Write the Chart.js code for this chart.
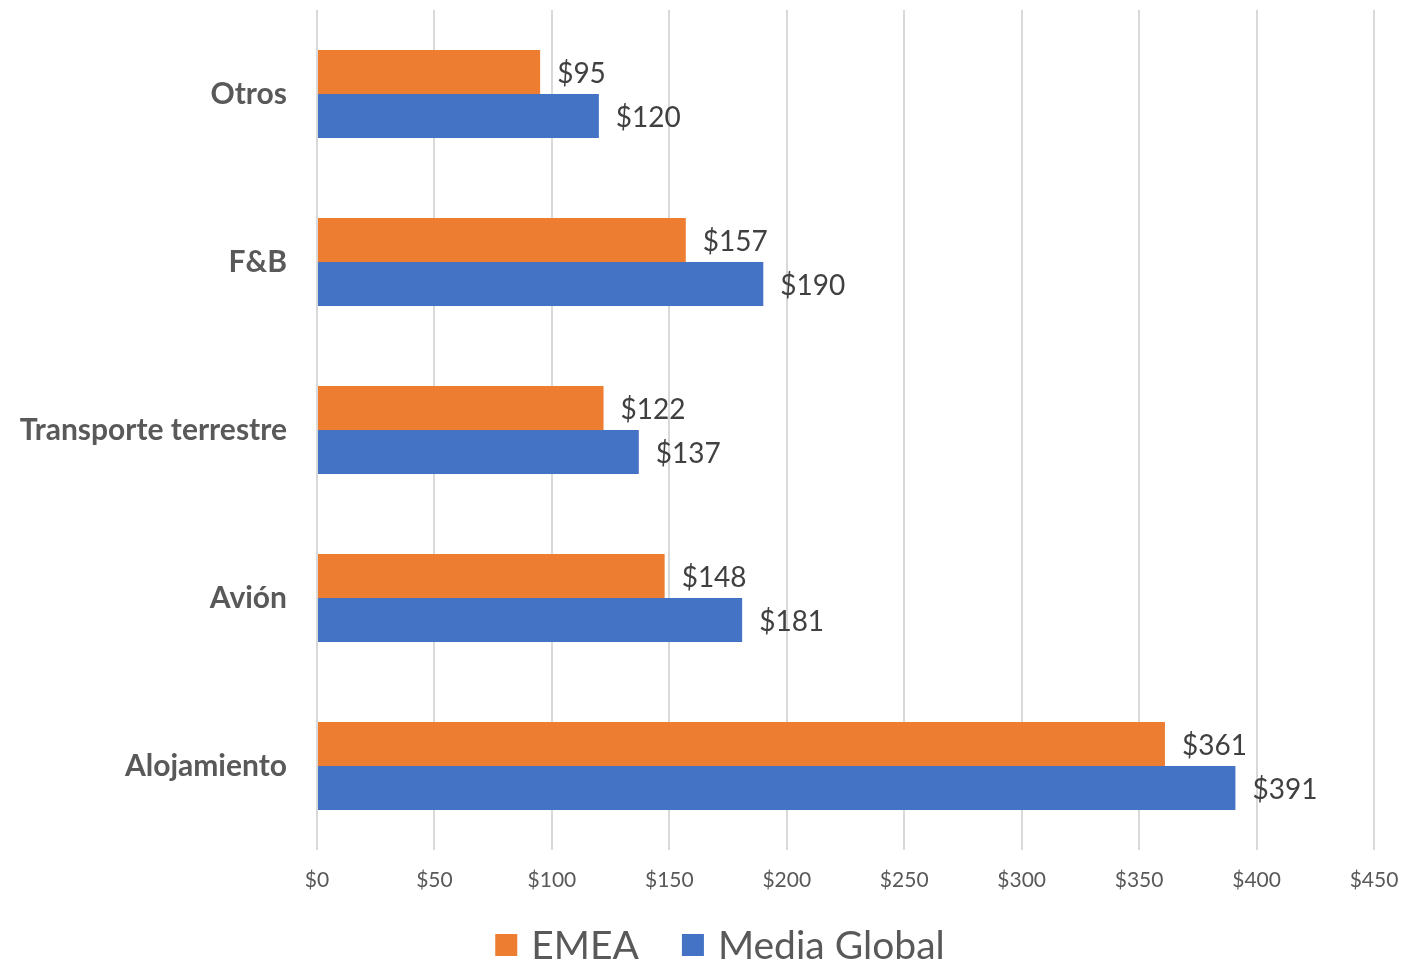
<!DOCTYPE html>
<html>
<head>
<meta charset="utf-8">
<script src="https://cdn.jsdelivr.net/npm/chart.js@4/dist/chart.umd.min.js"></script>
<style>
  html, body { margin: 0; padding: 0; background: #fff; }
  #wrap { width: 1404px; height: 963px; position: relative; }
</style>
</head>
<body>
<div id="wrap"><canvas id="gastosChart"></canvas></div>
<script>
  const categories   = ["Otros", "F&B", "Transporte terrestre", "Avión", "Alojamiento"];
  const emeaValues   = [95, 157, 122, 148, 361];
  const globalValues = [120, 190, 137, 181, 391];
  const seriesNames  = ["EMEA", "Media Global"];
  const xTicks       = [0, 50, 100, 150, 200, 250, 300, 350, 400, 450];

  const COLOR_EMEA   = "#ED7D31";
  const COLOR_GLOBAL = "#4472C4";
  const FONT = "Lato, 'Open Sans', sans-serif";

  // value labels at the end of each bar
  const valueLabels = {
    id: "valueLabels",
    afterDatasetsDraw(chart) {
      const ctx = chart.ctx;
      ctx.save();
      ctx.font = "28px " + FONT;
      ctx.fillStyle = "#404040";
      ctx.textAlign = "left";
      ctx.textBaseline = "middle";
      chart.data.datasets.forEach((ds, di) => {
        const meta = chart.getDatasetMeta(di);
        meta.data.forEach((bar, i) => {
          ctx.fillText("$" + ds.data[i], bar.x + 17, bar.y + 2);
        });
      });
      ctx.restore();
    },
  };

  // legend drawn by hand so spacing matches the original
  const bottomLegend = {
    id: "bottomLegend",
    afterDraw(chart) {
      const ctx = chart.ctx;
      const box = 22, gap = 14, itemGap = 43;
      const y = 945;
      ctx.save();
      ctx.font = "39px " + FONT;
      ctx.textBaseline = "middle";
      ctx.textAlign = "left";
      const items = chart.data.datasets.map((ds) => ({
        text: ds.label,
        color: ds.backgroundColor,
        w: ctx.measureText(ds.label).width,
      }));
      let total = 0;
      items.forEach((it, i) => { total += box + gap + it.w + (i ? itemGap : 0); });
      let x = 720 - total / 2;
      items.forEach((it) => {
        ctx.fillStyle = it.color;
        ctx.fillRect(x, y - box / 2, box, box);
        x += box + gap;
        ctx.fillStyle = "#595959";
        ctx.fillText(it.text, x, y + 1);
        x += it.w + itemGap;
      });
      ctx.restore();
    },
  };

  new Chart(document.getElementById("gastosChart"), {
    type: "bar",
    data: {
      labels: categories,
      datasets: [
        { label: seriesNames[0], data: emeaValues, backgroundColor: COLOR_EMEA },
        { label: seriesNames[1], data: globalValues, backgroundColor: COLOR_GLOBAL },
      ],
    },
    options: {
      indexAxis: "y",
      responsive: true,
      maintainAspectRatio: false,
      animation: false,
      datasets: {
        bar: { categoryPercentage: 0.524, barPercentage: 1.0, borderWidth: 0 },
      },
      layout: { padding: { top: 10, right: 30, left: 0, bottom: 53 } },
      plugins: {
        tooltip: { enabled: false },
        legend: { display: false },
      },
      scales: {
        x: {
          min: 0,
          max: 450,
          afterBuildTicks(scale) {
            scale.ticks = xTicks.map((v) => ({ value: v }));
          },
          afterFit(scale) {
            scale.height = 60;
            scale.paddingLeft = 0;
            scale.paddingRight = 0;
          },
          ticks: {
            color: "#595959",
            font: { family: FONT, size: 21 },
            padding: 18,
            callback: (v) => "$" + v,
          },
          grid: { color: "#d9d9d9", lineWidth: 2, drawTicks: false },
          border: { display: false },
        },
        y: {
          afterFit(scale) {
            scale.width = 317;
            scale.paddingTop = 0;
            scale.paddingBottom = 0;
          },
          ticks: {
            color: "#595959",
            font: { family: FONT, size: 30, weight: "bold" },
            padding: 30,
          },
          grid: { display: false, drawTicks: false },
          border: { display: false },
        },
      },
    },
    plugins: [valueLabels, bottomLegend],
  });
</script>
</body>
</html>
